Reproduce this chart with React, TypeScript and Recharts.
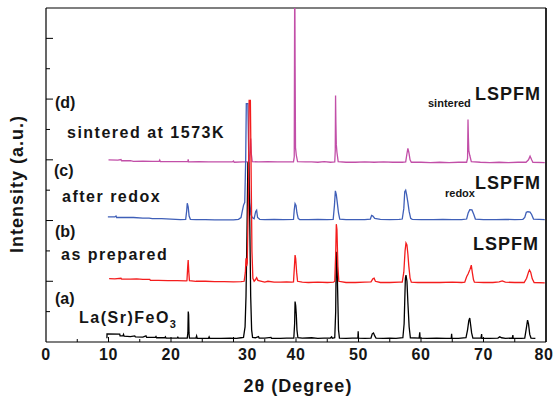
import React from 'react';
import { LineChart, Line, XAxis, YAxis, ReferenceLine } from 'recharts';

type Pt = [number, number];

// ---- axis ticks ----
const xTicks = [0, 5, 10, 15, 20, 25, 30, 35, 40, 45, 50, 55, 60, 65, 70, 75, 80];
const yTicks = [0, 1, 2, 3, 4, 5, 6, 7, 8, 9, 10, 11];
const xLabelShift: Record<number, number> = { 30: 14, 80: -2 };

// ---- series: [2theta, intensity (offset, a.u.)] ----
const lsfPattern: Pt[] = [
  [9.75, 0.12], [9.76, 0.27], [11.8, 0.26], [11.85, 0.2], [12.3, 0.2], [12.4, 0.25], [12.5, 0.19],
  [13.5, 0.18], [14.2, 0.2], [14.3, 0.17], [15.5, 0.16], [16.0, 0.2], [16.1, 0.15], [17.5, 0.15],
  [17.6, 0.18], [17.7, 0.14], [19.0, 0.14], [19.1, 0.17], [19.2, 0.13], [21.0, 0.13], [21.1, 0.16],
  [21.2, 0.13], [22.6, 0.13], [22.7, 0.3], [22.76, 1.0], [22.82, 0.9], [22.88, 0.3], [22.95, 0.13],
  [24.0, 0.13], [24.1, 0.2], [24.2, 0.12], [26.0, 0.12], [26.1, 0.17], [26.2, 0.12], [28.0, 0.12],
  [29.5, 0.13], [30.5, 0.12], [31.2, 0.14], [31.6, 0.15], [31.85, 0.5], [32.0, 1.5], [32.15, 3.5],
  [32.3, 5.9], [32.45, 5.9], [32.6, 4.0], [32.75, 1.5], [32.9, 0.4], [33.05, 0.15], [33.5, 0.14],
  [34.0, 0.18], [34.1, 0.13], [35.0, 0.13], [36.0, 0.15], [36.1, 0.12], [37.5, 0.12], [38.5, 0.13],
  [39.65, 0.13], [39.78, 0.6], [39.85, 1.33], [39.95, 1.2], [40.05, 0.9], [40.15, 0.4], [40.3, 0.14],
  [41.0, 0.13], [42.5, 0.14], [43.5, 0.12], [44.5, 0.13], [45.5, 0.13], [45.7, 0.17], [45.8, 0.12],
  [46.2, 0.14], [46.35, 1.0], [46.45, 2.97], [46.55, 2.8], [46.65, 1.8], [46.8, 0.4], [46.95, 0.13],
  [48.0, 0.12], [49.0, 0.13], [49.9, 0.13], [49.95, 0.35], [50.0, 0.13], [51.0, 0.12], [52.0, 0.13],
  [52.2, 0.27], [52.4, 0.3], [52.6, 0.2], [52.8, 0.13], [54.0, 0.12], [55.0, 0.13], [56.0, 0.12],
  [57.1, 0.14], [57.3, 0.6], [57.5, 2.1], [57.6, 2.2], [57.75, 2.0], [57.9, 1.3], [58.1, 0.5],
  [58.3, 0.14], [59.7, 0.13], [59.8, 0.32], [59.85, 0.13], [61.0, 0.12], [62.5, 0.13], [64.0, 0.12],
  [64.85, 0.13], [64.9, 0.27], [64.95, 0.12], [66.0, 0.12], [67.2, 0.14], [67.45, 0.4], [67.65, 0.7],
  [67.8, 0.79], [67.95, 0.55], [68.1, 0.3], [68.3, 0.13], [69.6, 0.13], [69.7, 0.26], [69.75, 0.12],
  [71.0, 0.12], [72.3, 0.13], [72.6, 0.17], [72.9, 0.14], [73.5, 0.12], [74.6, 0.13], [74.7, 0.23],
  [74.75, 0.12], [76.0, 0.12], [76.6, 0.13], [76.85, 0.45], [77.05, 0.72], [77.2, 0.6], [77.4, 0.25],
  [77.6, 0.13], [78.3, 0.12],
];

const preparedPattern: Pt[] = [
  [10.1, 2.09], [11.0, 2.08], [12.0, 2.1], [12.1, 2.07], [13.5, 2.07], [14.5, 2.08], [15.5, 2.06],
  [16.6, 2.06], [16.7, 2.03], [18.0, 2.03], [19.5, 2.02], [21.0, 2.02], [22.4, 2.01], [22.55, 2.02],
  [22.68, 2.5], [22.75, 2.7], [22.85, 2.3], [22.95, 2.02], [24.0, 2.0], [25.5, 2.0], [27.0, 1.99],
  [28.5, 1.99], [30.0, 1.98], [31.2, 1.99], [31.7, 2.0], [31.9, 2.3], [32.0, 2.76], [32.1, 2.5],
  [32.2, 2.6], [32.4, 5.0], [32.5, 7.96], [32.7, 7.96], [32.8, 6.0], [32.95, 3.0], [33.1, 2.1],
  [33.3, 2.0], [33.5, 2.05], [33.7, 2.12], [33.9, 2.03], [34.5, 2.0], [35.0, 1.97], [35.5, 2.0],
  [36.5, 1.97], [37.5, 1.97], [38.5, 1.98], [39.3, 1.97], [39.6, 1.98], [39.75, 2.5], [39.85, 2.86],
  [39.95, 2.75], [40.1, 2.3], [40.25, 2.0], [41.0, 1.97], [42.0, 1.96], [43.5, 1.97], [45.0, 1.96],
  [46.0, 1.97], [46.2, 2.0], [46.35, 2.9], [46.45, 3.88], [46.55, 3.7], [46.7, 2.5], [46.85, 2.0],
  [48.0, 1.96], [49.5, 1.96], [51.0, 1.97], [52.0, 1.98], [52.3, 2.08], [52.5, 2.1], [52.7, 2.0],
  [53.5, 1.96], [55.0, 1.96], [56.5, 1.97], [57.0, 1.97], [57.25, 2.3], [57.45, 3.0], [57.6, 3.26],
  [57.75, 3.2], [57.9, 2.9], [58.05, 2.5], [58.25, 2.1], [58.45, 1.97], [59.5, 1.96], [61.0, 1.96],
  [63.0, 1.96], [65.0, 1.97], [66.5, 1.96], [67.0, 1.97], [67.3, 2.15], [67.55, 2.25], [67.85, 2.4],
  [68.05, 2.53], [68.2, 2.3], [68.4, 2.05], [68.55, 1.97], [70.0, 1.96], [71.5, 1.96], [72.5, 1.98],
  [73.0, 2.01], [73.5, 1.97], [75.0, 1.96], [76.5, 1.96], [76.9, 2.1], [77.2, 2.3], [77.35, 2.37],
  [77.55, 2.3], [77.8, 2.08], [78.1, 1.96], [79.8, 1.95],
];

const redoxPattern: Pt[] = [
  [9.9, 4.12], [11.0, 4.12], [11.2, 4.15], [11.3, 4.1], [12.5, 4.1], [14.0, 4.1], [15.5, 4.08],
  [16.5, 4.08], [17.0, 4.06], [18.5, 4.06], [20.0, 4.05], [21.5, 4.03], [22.35, 4.04], [22.5, 4.3],
  [22.6, 4.57], [22.75, 4.45], [22.9, 4.15], [23.1, 4.04], [24.0, 4.03], [25.5, 4.03], [27.0, 4.02],
  [28.5, 4.02], [30.0, 4.02], [30.8, 4.04], [31.2, 4.1], [31.4, 4.3], [31.6, 4.5], [31.8, 4.6],
  [31.95, 6.0], [32.05, 7.85], [32.3, 7.85], [32.45, 6.0], [32.6, 4.6], [32.8, 4.2], [33.0, 4.1],
  [33.3, 4.06], [33.55, 4.3], [33.7, 4.34], [33.85, 4.1], [34.2, 4.04], [35.0, 4.03], [36.5, 4.04],
  [38.0, 4.03], [39.6, 4.04], [39.72, 4.35], [39.85, 4.56], [40.0, 4.5], [40.15, 4.25], [40.35, 4.07],
  [40.6, 4.03], [42.0, 4.03], [43.5, 4.04], [45.0, 4.03], [45.95, 4.04], [46.15, 4.5], [46.3, 4.98],
  [46.45, 4.85], [46.6, 4.6], [46.8, 4.25], [47.0, 4.05], [48.0, 4.03], [49.5, 4.03], [51.0, 4.03],
  [51.9, 4.05], [52.1, 4.17], [52.3, 4.15], [52.6, 4.07], [53.5, 4.04], [55.0, 4.03], [56.5, 4.04],
  [57.0, 4.05], [57.25, 4.4], [57.4, 4.95], [57.55, 5.0], [57.7, 4.85], [57.9, 4.6], [58.1, 4.3],
  [58.35, 4.07], [58.6, 4.04], [60.0, 4.03], [62.0, 4.03], [63.5, 4.04], [65.0, 4.03], [66.5, 4.03],
  [67.3, 4.05], [67.55, 4.25], [67.8, 4.36], [68.15, 4.35], [68.45, 4.2], [68.7, 4.05], [70.0, 4.03],
  [72.0, 4.03], [73.5, 4.04], [75.0, 4.03], [76.3, 4.04], [76.6, 4.1], [76.85, 4.27], [77.1, 4.29],
  [77.45, 4.28], [77.7, 4.2], [78.0, 4.05], [79.8, 4.03],
];

const sinteredPattern: Pt[] = [
  [10.0, 6.0], [11.5, 5.99], [12.0, 6.01], [12.1, 5.97], [13.5, 5.97], [14.0, 5.95], [15.5, 5.96],
  [17.0, 5.95], [18.1, 5.95], [18.2, 5.99], [18.3, 5.94], [20.0, 5.94], [21.5, 5.94], [22.7, 5.94],
  [22.75, 6.02], [22.8, 5.93], [24.5, 5.94], [26.0, 5.93], [28.0, 5.93], [29.8, 5.93], [30.0, 5.96],
  [30.1, 5.92], [31.5, 5.93], [32.5, 5.93], [32.65, 6.3], [32.75, 6.7], [32.85, 6.2], [33.0, 5.94],
  [34.0, 5.93], [35.5, 5.94], [37.0, 5.93], [38.5, 5.93], [39.6, 5.93], [39.72, 6.1], [39.8, 12.5],
  [39.86, 9.1], [39.92, 6.4], [40.05, 6.15], [40.25, 5.94], [41.5, 5.93], [42.5, 5.93], [43.5, 5.92],
  [44.5, 5.94], [45.5, 5.92], [46.2, 5.93], [46.28, 6.3], [46.33, 8.12], [46.38, 7.25], [46.45, 6.5],
  [46.55, 6.25], [46.75, 5.94], [48.0, 5.92], [49.5, 5.92], [51.0, 5.93], [52.5, 5.92], [54.0, 5.93],
  [55.5, 5.92], [57.0, 5.92], [57.55, 5.93], [57.75, 6.2], [57.9, 6.38], [58.05, 6.25], [58.25, 6.0],
  [58.45, 5.92], [60.0, 5.92], [61.5, 5.91], [63.0, 5.92], [64.5, 5.91], [66.0, 5.92], [67.3, 5.92],
  [67.45, 6.05], [67.52, 7.33], [67.58, 6.75], [67.65, 6.3], [67.8, 6.15], [68.05, 5.94], [69.5, 5.92],
  [71.0, 5.91], [72.5, 5.92], [74.0, 5.91], [75.5, 5.92], [76.8, 5.92], [77.2, 6.0], [77.45, 6.12],
  [77.7, 6.0], [77.9, 5.92], [79.8, 5.91],
];

const toRows = (pts: Pt[]) => pts.map(([t, v]) => ({ t, v }));

const FONT = '"Liberation Sans", Arial, Helvetica, sans-serif';
const TEXT = '#151515';

const XTick = (props: any) => {
  const { x, y, payload } = props;
  const v = payload.value as number;
  const major = v % 10 === 0;
  const edge = v === 0 || v === 80;
  return (
    <g>
      {!edge && (
        <line x1={x} x2={x} y1={y} y2={y - (major ? 5 : 3)} stroke="#000" strokeWidth={1} />
      )}
      {major && (
        <text
          x={x + (xLabelShift[v] ?? 0)}
          y={y + 18}
          textAnchor="middle"
          fontFamily={FONT}
          fontWeight="bold"
          fontSize={16}
          letterSpacing={0.5}
          fill={TEXT}
        >
          {v}
        </text>
      )}
    </g>
  );
};

const YTick = (props: any) => {
  const { x, y, payload } = props;
  const v = payload.value as number;
  if (v === 0 || v === 11) return <g />;
  const len = v % 2 === 0 ? 7 : 4;
  return <line x1={x} x2={x + len} y1={y} y2={y} stroke="#000" strokeWidth={1} />;
};

const labelStyle = {
  fontFamily: FONT,
  fontWeight: 'bold' as const,
  fill: TEXT,
};

const axisLine = { stroke: '#000', strokeWidth: 1.2 };

export default function App() {
  return (
    <div style={{ position: 'absolute', left: 0, top: 0, width: 553, height: 402, background: '#fff' }}>
      <LineChart width={553} height={402} margin={{ top: 8, right: 6, bottom: 0, left: 0 }}>
        <XAxis
          type="number"
          dataKey="t"
          domain={[0, 80]}
          ticks={xTicks}
          interval={0}
          height={60}
          tickSize={0}
          tickMargin={0}
          tickLine={false}
          tick={XTick}
          axisLine={axisLine}
        />
        <YAxis
          type="number"
          domain={[0, 11]}
          allowDataOverflow
          ticks={yTicks}
          interval={0}
          width={46}
          tickSize={0}
          tickMargin={0}
          tickLine={false}
          tick={YTick}
          axisLine={axisLine}
        />
        <YAxis
          yAxisId="frame"
          orientation="right"
          type="number"
          domain={[0, 11]}
          width={1}
          tick={false}
          tickLine={false}
          axisLine={axisLine}
        />
        <ReferenceLine y={11} stroke="#000" strokeWidth={1.2} ifOverflow="visible" />
        <ReferenceLine x={80} stroke="#000" strokeWidth={1.2} ifOverflow="visible" />
        <Line data={toRows(sinteredPattern)} dataKey="v" type="linear" stroke="#c24fa8" strokeWidth={1.3} dot={false} isAnimationActive={false} />
        <Line data={toRows(redoxPattern)} dataKey="v" type="linear" stroke="#3f5fb8" strokeWidth={1.3} dot={false} isAnimationActive={false} />
        <Line data={toRows(lsfPattern)} dataKey="v" type="linear" stroke="#000000" strokeWidth={1.3} dot={false} isAnimationActive={false} />
        <Line data={toRows(preparedPattern)} dataKey="v" type="linear" stroke="#f41d1d" strokeWidth={1.3} dot={false} isAnimationActive={false} />
      </LineChart>
      <svg width={553} height={402} style={{ position: 'absolute', left: 0, top: 0, pointerEvents: 'none' }}>
        <g {...labelStyle} fontSize={16}>
          <text x={55} y={108}>(d)</text>
          <text x={67} y={138} letterSpacing={1.5}>sintered at 1573K</text>
          <text x={54} y={176}>(c)</text>
          <text x={62} y={202} letterSpacing={1.5}>after redox</text>
          <text x={55} y={237}>(b)</text>
          <text x={61} y={260} letterSpacing={1.5}>as prepared</text>
          <text x={55} y={304}>(a)</text>
          <text x={79} y={323} letterSpacing={1.5}>
            La(Sr)FeO<tspan fontSize={11} dy={5}>3</tspan>
          </text>
        </g>
        <g {...labelStyle}>
          <text x={428} y={107} fontSize={11}>sintered</text>
          <text x={475} y={100} fontSize={18} letterSpacing={1}>LSPFM</text>
          <text x={445} y={197} fontSize={11}>redox</text>
          <text x={475} y={189} fontSize={18} letterSpacing={1}>LSPFM</text>
          <text x={473} y={250} fontSize={18} letterSpacing={1}>LSPFM</text>
        </g>
        <text {...labelStyle} fontSize={18} letterSpacing={1} textAnchor="middle" transform="translate(23,184) rotate(-90)">
          Intensity (a.u.)
        </text>
        <text {...labelStyle} fontSize={18} letterSpacing={1} textAnchor="middle" x={298} y={392}>
          2θ (Degree)
        </text>
      </svg>
    </div>
  );
}
